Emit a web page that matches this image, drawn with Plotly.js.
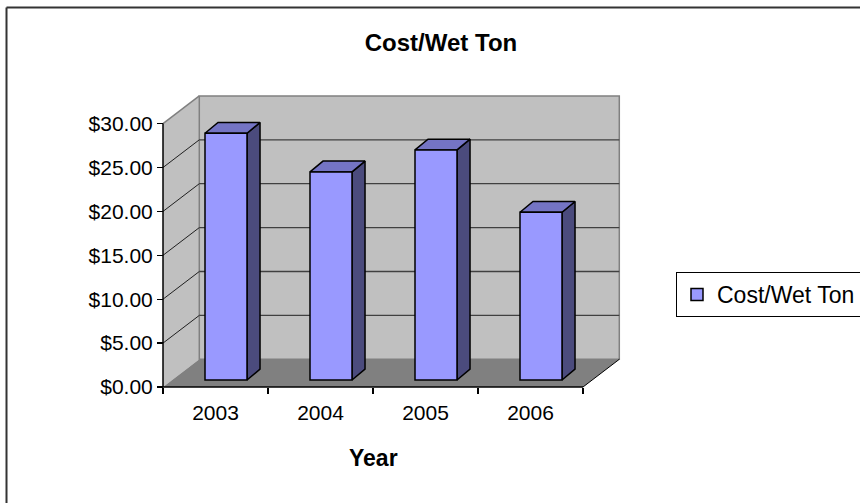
<!DOCTYPE html>
<html>
<head>
<meta charset="utf-8">
<script src="https://cdn.plot.ly/plotly-3.0.1.min.js"></script>
<style>html,body{margin:0;padding:0;background:#fff;}#chart{width:860px;height:503px;}</style>
</head>
<body>
<div id="chart"></div>
<script>
// ---- data ----
const categories = ['2003', '2004', '2005', '2006'];
const costPerWetTon = [28.1, 23.7, 26.2, 19.1];
const yTickVals = [0, 5, 10, 15, 20, 25, 30];
const seriesName = 'Cost/Wet Ton';
const chartTitle = 'Cost/Wet Ton';
const xAxisTitle = 'Year';

// ---- style / geometry ----
const W = 860, H = 503;
const ML = 155, MR = 235, MT = 92, MB = 111;
const PW = W - ML - MR, PH = H - MT - MB;
const X0PX = 163, PX_PER_X = 105;   // category -0.5 boundary at pixel 163
const Y0PX = 387, PX_PER_Y = 8.78;  // $0 at pixel 387
const xRange = [-0.5 - (X0PX - ML) / PX_PER_X, -0.5 + (ML + PW - X0PX) / PX_PER_X];
const yRange = [-(MT + PH - Y0PX) / PX_PER_Y, (Y0PX - MT) / PX_PER_Y];
const WDX = 0.3457, WDY = 3.155;    // wall depth
const BAR_OFF = -0.1, BAR_W = 0.4, BAR_BASE = 0.8, BDX = 0.124, BDY = 1.23;
const YMAX = yTickVals[yTickVals.length - 1];
const NCAT = categories.length;
const xL = -0.5, xR = NCAT - 0.5;
const FONT = 'Arial, "Liberation Sans", sans-serif';

const pxX = px => (px - ML) / PW;
const pxY = py => (MT + PH - py) / PH;

// side & top faces derived from values
const sideX = [], sideY = [], topX = [], topY = [];
costPerWetTon.forEach((v, i) => {
  const xl = i + BAR_OFF, xr = xl + BAR_W, b = BAR_BASE, t = BAR_BASE + v;
  sideX.push(xr, xr + BDX, xr + BDX, xr, xr, null);
  sideY.push(b, b + BDY, t + BDY, t, b, null);
  topX.push(xl, xr, xr + BDX, xl + BDX, xl, null);
  topY.push(t, t, t + BDY, t + BDY, t, null);
});

const traces = [
  {type: 'scatter', x: sideX, y: sideY, xaxis: 'x', yaxis: 'y', mode: 'lines', fill: 'toself',
   fillcolor: '#4b4b7d', line: {color: '#000', width: 1.5}, showlegend: false, hoverinfo: 'skip'},
  {type: 'scatter', x: topX, y: topY, xaxis: 'x', yaxis: 'y', mode: 'lines', fill: 'toself',
   fillcolor: '#7474c4', line: {color: '#000', width: 1.5}, showlegend: false, hoverinfo: 'skip'},
  {type: 'bar', name: seriesName, x: categories, y: costPerWetTon, base: BAR_BASE,
   xaxis: 'x2', yaxis: 'y', offset: BAR_OFF, width: BAR_W,
   marker: {color: '#9999ff', line: {color: '#000', width: 1.5}}}
];

const shapes = [];
const P = (pts) => 'M' + pts.map(p => p[0] + ',' + p[1]).join('L') + 'Z';
// left wall
shapes.push({type: 'path', xref: 'x', yref: 'y', layer: 'below',
  path: P([[xL, 0], [xL, YMAX], [xL + WDX, YMAX + WDY], [xL + WDX, WDY]]),
  fillcolor: '#c0c0c0', line: {width: 0}});
// back wall
shapes.push({type: 'rect', xref: 'x', yref: 'y', layer: 'below',
  x0: xL + WDX, x1: xR + WDX, y0: WDY, y1: YMAX + WDY,
  fillcolor: '#c0c0c0', line: {color: '#808080', width: 1.5}});
// floor
shapes.push({type: 'path', xref: 'x', yref: 'y', layer: 'below',
  path: P([[xL, 0], [xR, 0], [xR + WDX, WDY], [xL + WDX, WDY]]),
  fillcolor: '#808080', line: {width: 0}});
// gridlines
yTickVals.forEach(v => {
  if (v === 0) return;
  const top = v === YMAX;
  if (!top) shapes.push({type: 'line', xref: 'x', yref: 'y', layer: 'below',
    x0: xL + WDX, x1: xR + WDX, y0: v + WDY, y1: v + WDY, line: {color: '#404040', width: 1.3}});
  shapes.push({type: 'line', xref: 'x', yref: 'y', layer: 'below',
    x0: xL, x1: xL + WDX, y0: v, y1: v + WDY, line: {color: top ? '#808080' : '#202020', width: top ? 1.5 : 1}});
});
// axis lines
shapes.push({type: 'line', xref: 'x', yref: 'y', layer: 'below', x0: xL, x1: xL, y0: 0, y1: YMAX, line: {color: '#000', width: 1.5}});
shapes.push({type: 'line', xref: 'x', yref: 'y', layer: 'below', x0: xL, x1: xR, y0: 0, y1: 0, line: {color: '#000', width: 1.5}});
shapes.push({type: 'line', xref: 'x', yref: 'y', layer: 'below', x0: xR, x1: xR + WDX, y0: 0, y1: WDY, line: {color: '#000', width: 1}});
// outer chart border (top and left edges only are in view)
shapes.push({type: 'line', xref: 'paper', yref: 'paper', layer: 'above',
  x0: pxX(6.5), x1: pxX(900), y0: pxY(7.5), y1: pxY(7.5), line: {color: '#333', width: 2}});
shapes.push({type: 'line', xref: 'paper', yref: 'paper', layer: 'above',
  x0: pxX(6.5), x1: pxX(6.5), y0: pxY(7.5), y1: pxY(560), line: {color: '#333', width: 2}});

const layout = {
  width: W, height: H,
  margin: {l: ML, r: MR, t: MT, b: MB, pad: 0},
  paper_bgcolor: '#fff', plot_bgcolor: 'rgba(0,0,0,0)',
  font: {family: FONT, color: '#000'},
  title: {text: '<b>' + chartTitle + '</b>', font: {family: FONT, size: 24, color: '#000'},
          x: 441 / W, xref: 'container', xanchor: 'center', y: 1 - 43 / H, yref: 'container', yanchor: 'middle'},
  xaxis: {range: xRange, visible: false, fixedrange: true},
  xaxis2: {type: 'category', overlaying: 'x', range: xRange, anchor: 'free', position: pxY(Y0PX),
           tickson: 'boundaries', ticks: 'outside', ticklen: 6, tickwidth: 1.3, tickcolor: '#000',
           ticklabelstandoff: 11,
           showgrid: false, showline: false, zeroline: false,
           tickfont: {family: FONT, size: 21, color: '#000'}, fixedrange: true},
  yaxis: {range: yRange, anchor: 'free', position: pxX(X0PX), tickvals: yTickVals,
          tickformat: '$.2f', ticks: 'outside', ticklen: 6, tickwidth: 1.3, tickcolor: '#000',
          showgrid: false, showline: false, zeroline: false,
          tickfont: {family: FONT, size: 21, color: '#000'}, fixedrange: true},
  annotations: [{text: '<b>' + xAxisTitle + '</b>', xref: 'x', yref: 'paper', x: (xL + xR) / 2, y: pxY(457.5),
                 xanchor: 'center', yanchor: 'middle', showarrow: false, font: {family: FONT, size: 23, color: '#000'}}],
  legend: {x: 676 / W, y: 1 - 272 / H, xanchor: 'left', yanchor: 'top', xref: 'container', yref: 'container',
           bordercolor: '#000', borderwidth: 1, bgcolor: '#fff',
           font: {family: FONT, size: 23, color: '#000'}},
  showlegend: true,
  hovermode: false,
  shapes: shapes
};

Plotly.newPlot('chart', traces, layout, {displayModeBar: false, staticPlot: true});
</script>
</body>
</html>
